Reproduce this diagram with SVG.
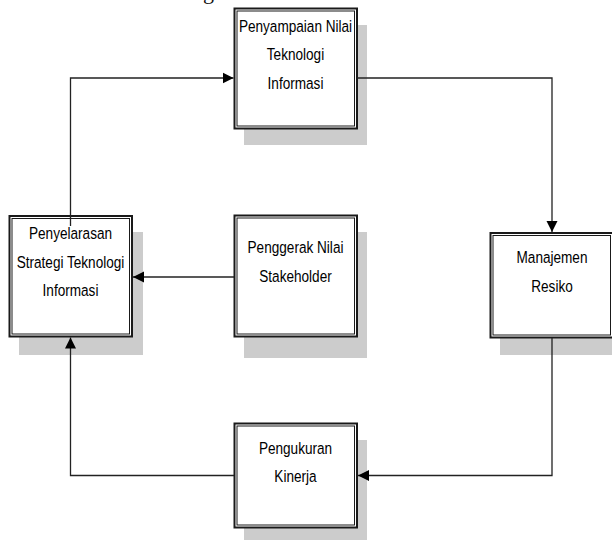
<svg xmlns="http://www.w3.org/2000/svg" width="612" height="540" viewBox="0 0 612 540">
  <style>
    .shadow { fill: #cccccc; }
    .outer { fill: #ffffff; stroke: #1a1a1a; stroke-width: 2; }
    .inner { fill: none; stroke: #1a1a1a; stroke-width: 1; }
    .label { font-family: "Liberation Sans", Arial, sans-serif; font-size: 17px; fill: #000000; text-anchor: middle; }
    .wire { fill: none; stroke: #222222; stroke-width: 1.3; }
  </style>
  <defs>
    <marker id="arrow" markerUnits="userSpaceOnUse" markerWidth="12" markerHeight="12" viewBox="0 0 12 12" refX="11" refY="6" orient="auto">
      <path d="M0,0.5 L11,6 L0,11.5 Z" fill="#000000"/>
    </marker>
  </defs>

  <rect width="612" height="540" fill="#ffffff"/>

  <!-- descender of a caption line above the figure -->
  <text x="203" y="-1" font-family="Liberation Serif, serif" font-size="22" fill="#111111">g</text>

  <!-- labels are set condensed (narrow sans) by a horizontal scale about each box centre -->
  <g id="penyampaian-nilai">
    <rect class="shadow" x="244" y="25" width="123" height="120"/>
    <rect class="outer" x="234.5" y="8.5" width="122.5" height="120"/>
    <rect class="inner" x="237" y="11" width="117.5" height="115"/>
    <g transform="translate(295.5 0) scale(0.8 1)">
      <text class="label" x="0" y="32">Penyampaian Nilai</text>
      <text class="label" x="0" y="60.5">Teknologi</text>
      <text class="label" x="0" y="89">Informasi</text>
    </g>
  </g>

  <g id="penyelarasan-strategi">
    <rect class="shadow" x="19" y="232" width="124" height="123"/>
    <rect class="outer" x="9.5" y="216" width="122.5" height="120.5"/>
    <rect class="inner" x="12" y="218.5" width="117.5" height="115.5"/>
    <g transform="translate(70.5 0) scale(0.8 1)">
      <text class="label" x="0" y="239.5">Penyelarasan</text>
      <text class="label" x="0" y="268">Strategi Teknologi</text>
      <text class="label" x="0" y="296.5">Informasi</text>
    </g>
  </g>

  <g id="penggerak-nilai">
    <rect class="shadow" x="244" y="232" width="123" height="126"/>
    <rect class="outer" x="234.5" y="215.5" width="122.5" height="121"/>
    <rect class="inner" x="237" y="218" width="117.5" height="116"/>
    <g transform="translate(295.5 0) scale(0.8 1)">
      <text class="label" x="0" y="253.5">Penggerak Nilai</text>
      <text class="label" x="0" y="282">Stakeholder</text>
    </g>
  </g>

  <g id="manajemen-resiko">
    <rect class="shadow" x="500" y="250" width="123" height="105"/>
    <rect class="outer" x="490.5" y="233" width="122.5" height="104.5"/>
    <rect class="inner" x="493" y="235.5" width="117.5" height="99.5"/>
    <g transform="translate(552 0) scale(0.8 1)">
      <text class="label" x="0" y="263.5">Manajemen</text>
      <text class="label" x="0" y="292">Resiko</text>
    </g>
  </g>

  <g id="pengukuran-kinerja">
    <rect class="shadow" x="244" y="440" width="123" height="105"/>
    <rect class="outer" x="234.5" y="423.5" width="122.5" height="104"/>
    <rect class="inner" x="237" y="426" width="117.5" height="99"/>
    <g transform="translate(295.5 0) scale(0.8 1)">
      <text class="label" x="0" y="454">Pengukuran</text>
      <text class="label" x="0" y="482">Kinerja</text>
    </g>
  </g>

  <g id="connectors">
    <path class="wire" d="M70.5,226 V78 H233.5" marker-end="url(#arrow)"/>
    <path class="wire" d="M357,78 H552 V232" marker-end="url(#arrow)"/>
    <path class="wire" d="M552,338 V475.5 H358" marker-end="url(#arrow)"/>
    <path class="wire" d="M234,475.5 H70.5 V337.5" marker-end="url(#arrow)"/>
    <path class="wire" d="M234,277 H133" marker-end="url(#arrow)"/>
  </g>
</svg>
